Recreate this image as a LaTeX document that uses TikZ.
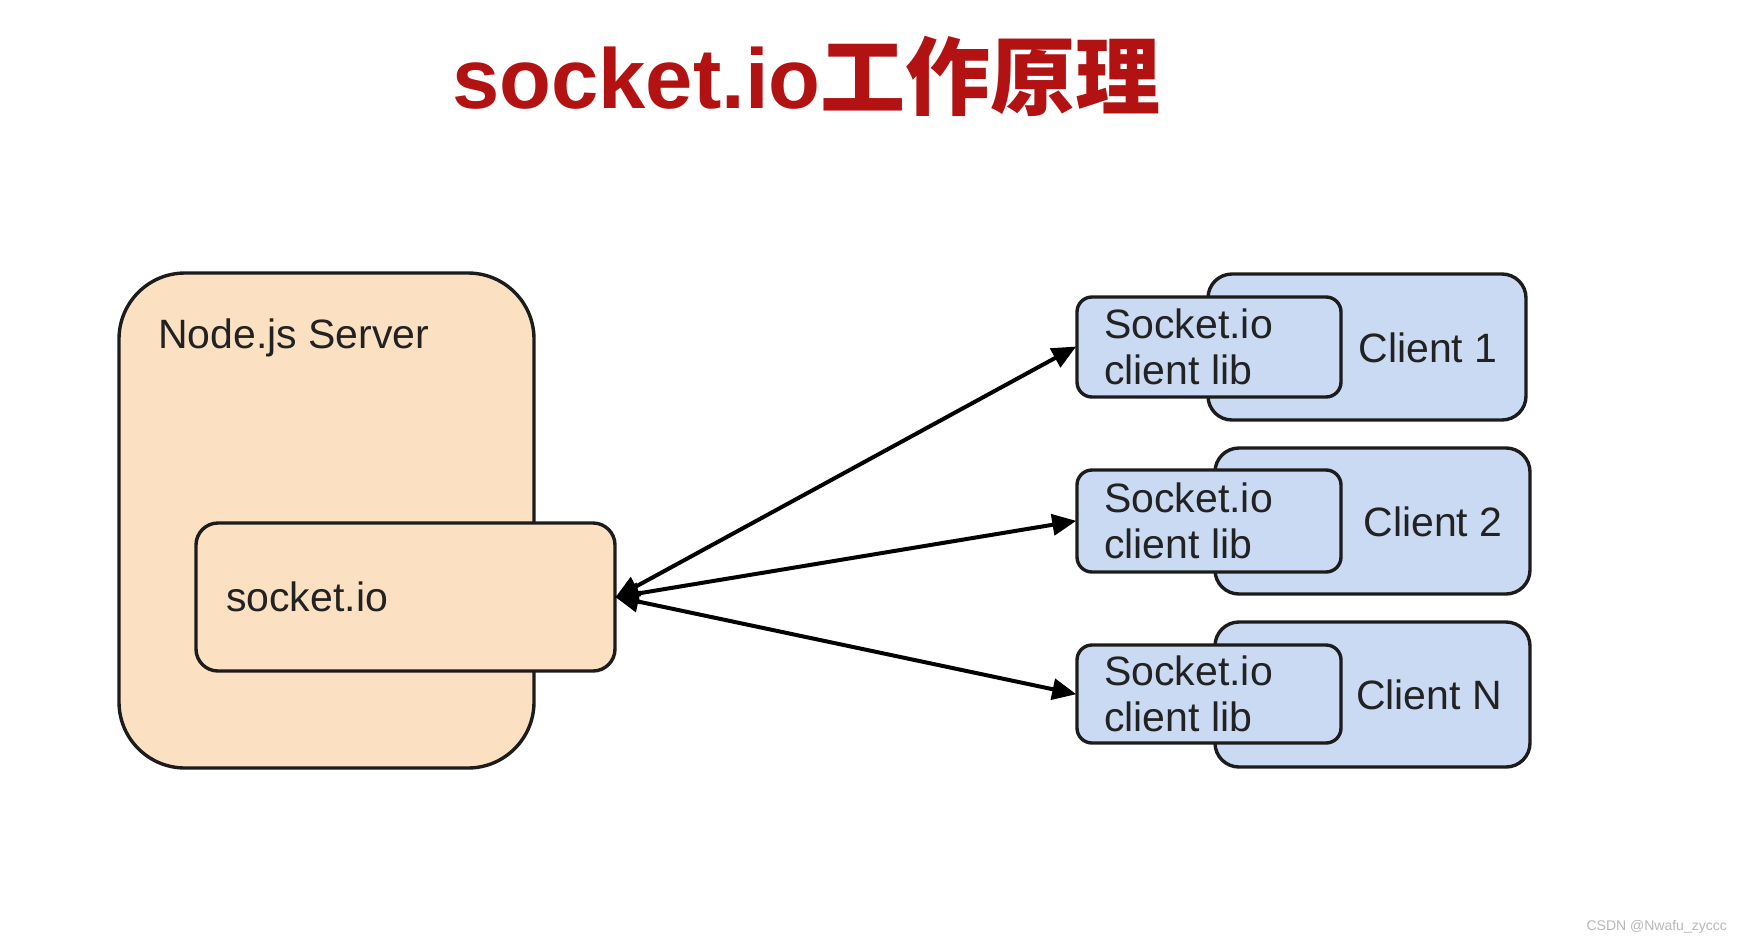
\documentclass[tikz,border=0pt]{standalone}
\usepackage{fontspec}
\setmainfont{Liberation Sans}
\newfontfamily\cjk{Noto Sans CJK SC}
\usetikzlibrary{arrows.meta}
\definecolor{peach}{RGB}{251,225,194}
\definecolor{cblue}{RGB}{201,218,242}
\definecolor{edge}{RGB}{28,28,28}
\definecolor{titlered}{RGB}{178,18,18}
\definecolor{txt}{RGB}{34,34,34}
\tikzset{
  srvbox/.style={draw=edge, line width=3.4pt, fill=peach, rounded corners=#1, inner sep=0pt},
  clbox/.style={draw=edge, line width=3.4pt, fill=cblue, rounded corners=#1, inner sep=0pt},
  lbl/.style={text=txt, font=\fontsize{41}{46}\selectfont, inner sep=0pt},
  link/.style={draw=black, line width=4pt, {Triangle[length=24pt,width=21pt]}-{Triangle[length=24pt,width=21pt]}, shorten <=-2pt, shorten >=-1pt}
}
\begin{document}
\begin{tikzpicture}[x=1pt,y=-1pt]
\path[fill=white] (0,0) rectangle (1738,943);
\useasboundingbox (0,0) rectangle (1738,943);

% title
\node[anchor=west, inner sep=0pt, text=titlered] (title) at (452,76)
  {\fontsize{85}{90}\selectfont\bfseries socket.io{\cjk\bfseries 工作原理}};

% server
\node[srvbox=66pt, minimum width=415pt, minimum height=495pt] (server) at (326.5,520.5) {};
\node[lbl, anchor=west] (servertxt) at (158,338) {Node.js Server};
\node[srvbox=22pt, minimum width=419pt, minimum height=148pt] (sio) at (405.5,597) {};
\node[lbl, anchor=west] (siotxt) at (226,597) {socket.io};

% clients
\node[clbox=24pt, minimum width=318pt, minimum height=146pt] (c1) at (1367,347) {};
\node[clbox=15pt, minimum width=264pt, minimum height=100pt] (l1) at (1209,347) {};
\node[lbl] (c1txt) at (1428,348) {Client 1};
\node[lbl, anchor=west, align=left] (l1txt) at (1104,347) {Socket.io\\client lib};

\node[clbox=24pt, minimum width=315pt, minimum height=146pt] (c2) at (1372.5,521) {};
\node[clbox=15pt, minimum width=264pt, minimum height=102pt] (l2) at (1209,521) {};
\node[lbl] (c2txt) at (1433,522) {Client 2};
\node[lbl, anchor=west, align=left] (l2txt) at (1104,521) {Socket.io\\client lib};

\node[clbox=24pt, minimum width=315pt, minimum height=145pt] (c3) at (1372.5,694.5) {};
\node[clbox=15pt, minimum width=264pt, minimum height=98pt] (l3) at (1209,694) {};
\node[lbl] (c3txt) at (1429,695) {Client N};
\node[lbl, anchor=west, align=left] (l3txt) at (1104,694) {Socket.io\\client lib};

% connectors
\draw[link] (sio.east) -- (l1.west);
\draw[link] (sio.east) -- (l2.west);
\draw[link] (sio.east) -- (l3.west);

% watermark
\node[anchor=east, text=black!28, font=\fontsize{14}{16}\selectfont, inner sep=0pt] (wm) at (1727,927) {CSDN @Nwafu\_zyccc};
\end{tikzpicture}
\end{document}
